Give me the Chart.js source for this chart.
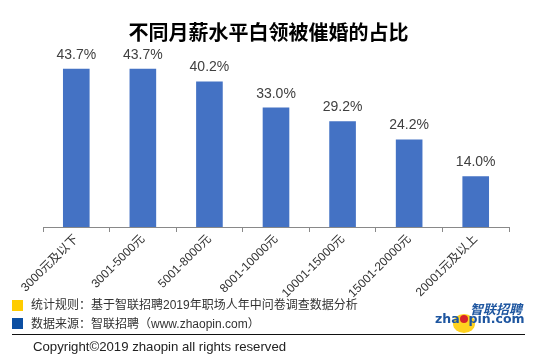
<!DOCTYPE html>
<html>
<head>
<meta charset="utf-8">
<script src="https://cdn.jsdelivr.net/npm/chart.js@4.4.1/dist/chart.umd.min.js"></script>
<style>
  html, body { margin: 0; padding: 0; background: #fff; }
  #wrap { position: relative; width: 537px; height: 362px; overflow: hidden; font-family: "Liberation Sans", "Noto Sans CJK SC", sans-serif; color: #333; }
  #chart { position: absolute; left: 0; top: 0; }
  .title { position: absolute; left: 0; width: 537px; top: 17px; line-height: 24px; text-align: center; font: bold 20px "Noto Sans CJK SC", sans-serif; color: #000; }
  .sq { position: absolute; left: 12px; width: 11px; height: 11px; }
  .note { position: absolute; left: 31px; font-size: 12px; line-height: 14px; white-space: nowrap; }
  .rule { position: absolute; left: 12px; top: 334px; width: 513px; height: 1px; background: #111; }
  .copy { position: absolute; left: 33px; top: 339px; font-size: 13.2px; line-height: 16px; white-space: nowrap; color: #222; }
  .logo-cn { position: absolute; left: 470px; top: 301px; font: italic bold 13px "Noto Sans CJK SC", sans-serif; line-height: 15px; color: #1e56a0; white-space: nowrap; }
  .logo-en { position: absolute; left: 435px; top: 312px; font: bold 12.5px "DejaVu Sans", sans-serif; line-height: 14px; color: #1e56a0; white-space: nowrap; }
  .sun { position: absolute; left: 453px; top: 314px; width: 22px; height: 19px; border-radius: 50%; background: #ffd21f; }
  .dot { display: inline-block; width: 8px; height: 8px; border-radius: 50%; background: #d8232a; vertical-align: 0px; margin: 0 0.5px; }
</style>
</head>
<body>
<div id="wrap">
  <canvas id="chart" width="537" height="362"></canvas>
  <div class="title">不同月薪水平白领被催婚的占比</div>

  <div class="sq" style="top:300px;background:#ffcc00"></div>
  <div class="note" style="top:298px">统计规则：基于智联招聘2019年职场人年中问卷调查数据分析</div>
  <div class="sq" style="top:318px;background:#0b4ea2"></div>
  <div class="note" style="top:317px">数据来源：智联招聘（www.zhaopin.com）</div>

  <div class="sun"></div>
  <div class="logo-cn">智联招聘</div>
  <div class="logo-en">zha<span class="dot"></span>pin.com</div>

  <div class="rule"></div>
  <div class="copy">Copyright©2019 zhaopin all rights reserved</div>
</div>
<script>
const categories = ['3000元及以下', '3001-5000元', '5001-8000元', '8001-10000元', '10001-15000元', '15001-20000元', '20001元及以上'];
const shares = [43.7, 43.7, 40.2, 33.0, 29.2, 24.2, 14.0];

// value labels above bars
const barLabels = {
    id: 'barLabels',
    afterDatasetsDraw(chart) {
        const ctx = chart.ctx;
        const meta = chart.getDatasetMeta(0);
        ctx.save();
        ctx.font = '14px "Liberation Sans", sans-serif';
        ctx.fillStyle = '#404040';
        ctx.textAlign = 'center';
        ctx.textBaseline = 'alphabetic';
        meta.data.forEach((bar, i) => {
            ctx.fillText(shares[i].toFixed(1) + '%', bar.x, bar.y - 10);
        });
        ctx.restore();
    }
};

new Chart(document.getElementById('chart').getContext('2d'), {
    type: 'bar',
    data: {
        labels: categories,
        datasets: [{
            data: shares,
            backgroundColor: '#4472c4',
            barPercentage: 0.8,
            categoryPercentage: 0.5
        }]
    },
    options: {
        responsive: false,
        animation: false,
        layout: { padding: { left: 43, right: 28, top: 46, bottom: 55 } },
        scales: {
            y: { display: false, min: 0, max: 50 },
            x: {
                afterFit: s => { s.height = 80; },
                grid: { offset: true, drawOnChartArea: false, drawTicks: true, tickLength: 5, color: '#898989' },
                border: { display: true, color: '#898989', width: 1 },
                ticks: {
                    minRotation: 45, maxRotation: 45, autoSkip: false, padding: 0,
                    color: '#333',
                    font: { size: 12, family: '"Liberation Sans", "Noto Sans CJK SC", sans-serif' }
                }
            }
        },
        plugins: {
            legend: { display: false },
            tooltip: { enabled: false },
            title: { display: false }
        }
    },
    plugins: [barLabels]
});
</script>
</body>
</html>
